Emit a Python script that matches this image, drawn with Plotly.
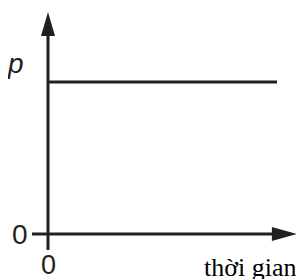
import plotly.graph_objects as go

# ---- data ----
time = [0, 10]
pressure = [1, 1]
x_label = "thời gian"
y_label = "p"
x_origin_label = "0"
y_origin_label = "0"

# ---- layout constants ----
# the page body has an 8px default margin, so the figure is 8px smaller
W, H = 296, 271
X_RANGE = [-1.747, 11.18]
Y_RANGE = [-0.296, 1.487]
X_TIP = 10.87      # horizontal axis arrow tip
Y_TIP = 1.461      # vertical axis arrow tip
X_START = -0.70    # horizontal axis starts left of origin
Y_START = -0.105   # vertical axis extends below origin
INK = "#231f20"
LW = 3

fig = go.Figure()
fig.add_trace(go.Scatter(x=time, y=pressure, mode="lines",
                         line=dict(color=INK, width=LW), hoverinfo="skip",
                         showlegend=False))

shapes = [
    dict(type="line", x0=X_START, x1=X_TIP - 0.5, y0=0, y1=0,
         line=dict(color=INK, width=LW)),
    dict(type="line", x0=0, x1=0, y0=Y_START, y1=Y_TIP - 0.08,
         line=dict(color=INK, width=LW)),
    dict(type="path", xsizemode="pixel", ysizemode="pixel",
         xanchor=X_TIP, yanchor=0, path="M0,0 L-25,7 L-25,-7 Z",
         fillcolor=INK, line=dict(width=0)),
    dict(type="path", xsizemode="pixel", ysizemode="pixel",
         xanchor=0, yanchor=Y_TIP, path="M0,0 L-7,-24 L7,-24 Z",
         fillcolor=INK, line=dict(width=0)),
]

annotations = [
    dict(x=-1.40, y=1.12, text="<i>" + y_label + "</i>", showarrow=False,
         font=dict(family="Liberation Sans", size=28, color=INK),
         xanchor="center", yanchor="middle"),
    dict(x=-1.22, y=0, text=y_origin_label, showarrow=False,
         font=dict(family="Liberation Sans", size=28, color=INK),
         xanchor="center", yanchor="middle"),
    dict(x=0, y=-0.205, text=x_origin_label, showarrow=False,
         font=dict(family="Liberation Sans", size=27, color=INK),
         xanchor="center", yanchor="middle"),
    dict(x=8.84, y=-0.22, text=x_label, showarrow=False,
         font=dict(family="Liberation Serif", size=26, color="#000000"),
         xanchor="center", yanchor="middle"),
]

fig.update_layout(
    width=W, height=H,
    margin=dict(l=0, r=0, t=0, b=0),
    paper_bgcolor="white", plot_bgcolor="white",
    xaxis=dict(range=X_RANGE, visible=False, fixedrange=True),
    yaxis=dict(range=Y_RANGE, visible=False, fixedrange=True),
    shapes=shapes, annotations=annotations,
    showlegend=False,
)
fig.write_html("out.html", config={"displayModeBar": False})
